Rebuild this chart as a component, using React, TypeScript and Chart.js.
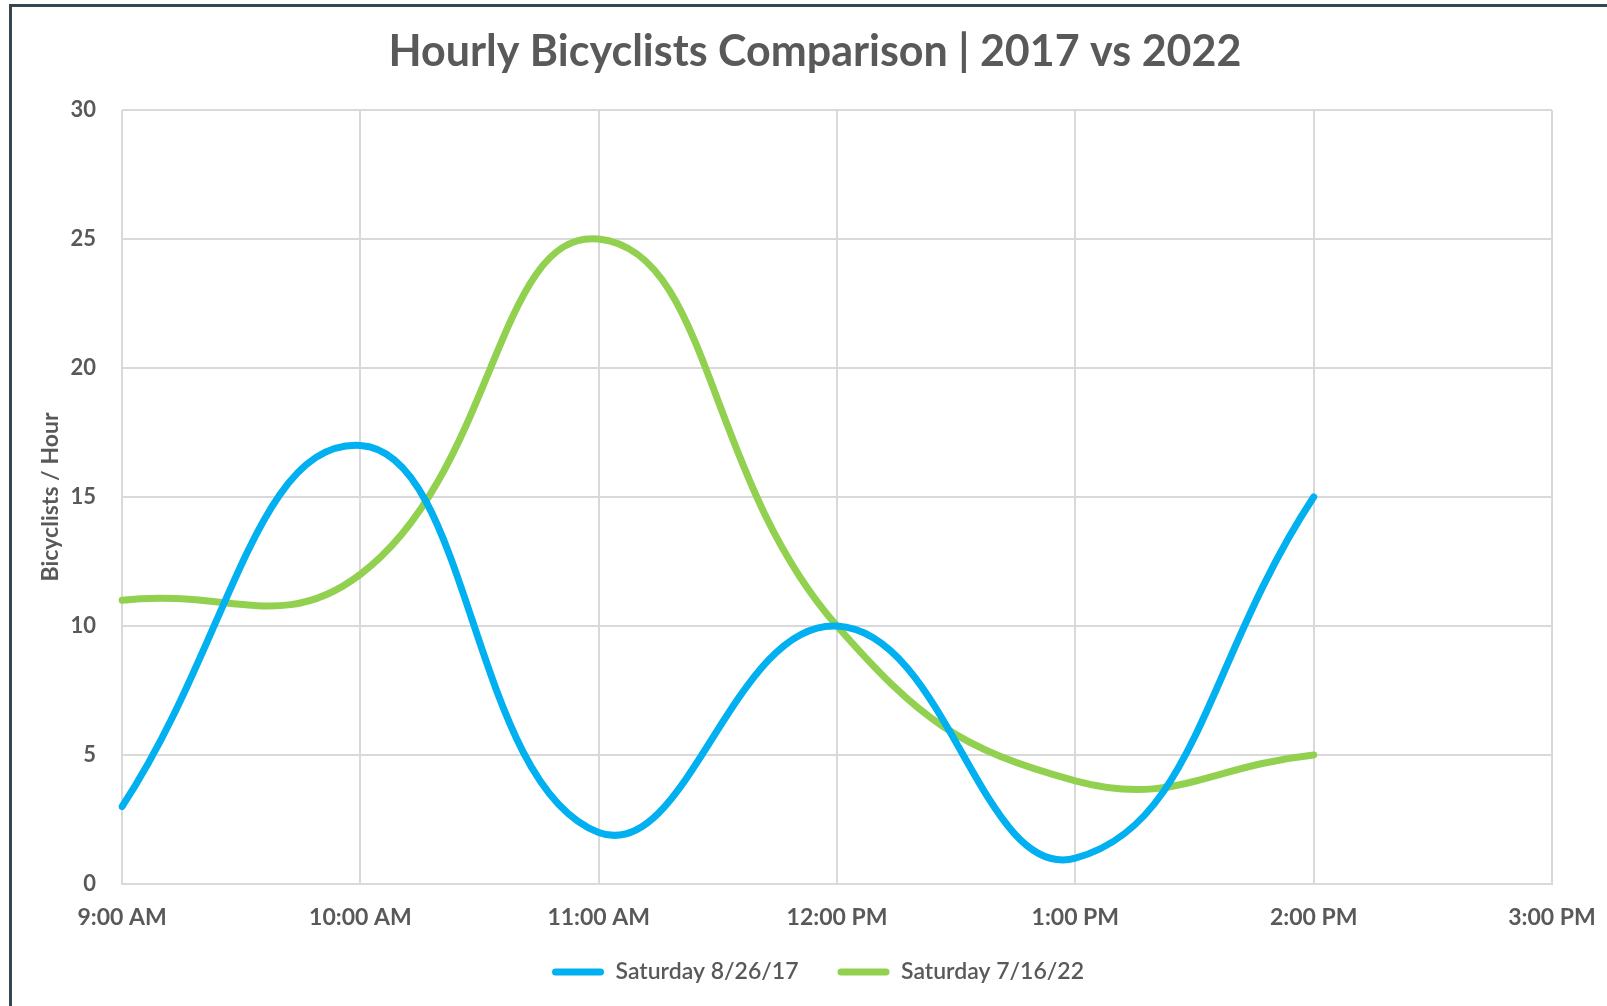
import React, { useEffect, useRef } from "react";
import { Chart, registerables } from "chart.js";

Chart.register(...registerables);

const hours = ["9:00 AM", "10:00 AM", "11:00 AM", "12:00 PM", "1:00 PM", "2:00 PM", "3:00 PM"];
const saturday2017 = [3, 17, 2, 10, 1, 15];
const saturday2022 = [11, 12, 25, 10, 4, 5];
const seriesNames = ["Saturday 8/26/17", "Saturday 7/16/22"];
const yMin = 0;
const yMax = 30;
const yStep = 5;

const TITLE_CX = 815;
const LEGEND_CX = 818;
const LEGEND_CY = 972;
const LEGEND_PAD = 39;
const LEGEND_FONT = 23;

const placeBoxes = {
  id: "placeBoxes",
  afterLayout(chart: any) {
    const t = chart.titleBlock;
    if (t) {
      const w = t.right - t.left;
      t.left = TITLE_CX - w / 2;
      t.right = TITLE_CX + w / 2;
    }
    const l = chart.legend;
    if (l) {
      const w = l.right - l.left;
      l.left = LEGEND_CX - w / 2;
      l.right = LEGEND_CX + w / 2;
      const h = l.bottom - l.top;
      l.top = LEGEND_CY - LEGEND_PAD - LEGEND_FONT / 2;
      l.bottom = l.top + h;
    }
  },
};

export default function App() {
  const ref = useRef<HTMLCanvasElement | null>(null);

  useEffect(() => {
    if (!ref.current) return;
    const gray = "#595959";
    const grid = "#d9d9d9";
    const chart = new Chart(ref.current, {
      type: "line",
      data: {
        labels: hours,
        datasets: [
          {
            label: seriesNames[0],
            data: saturday2017,
            borderColor: "#00B0F0",
            backgroundColor: "#00B0F0",
            borderWidth: 7,
            pointRadius: 0,
            tension: 0.45,
            borderCapStyle: "round",
            borderJoinStyle: "round",
            fill: false,
          },
          {
            label: seriesNames[1],
            data: saturday2022,
            borderColor: "#92D050",
            backgroundColor: "#92D050",
            borderWidth: 7,
            pointRadius: 0,
            tension: 0.45,
            borderCapStyle: "round",
            borderJoinStyle: "round",
            fill: false,
          },
        ],
      },
      options: {
        responsive: false,
        animation: false,
        layout: { padding: { left: 9, right: 55, top: 0, bottom: 0 } },
        plugins: {
          title: {
            display: true,
            text: "Hourly Bicyclists Comparison | 2017 vs 2022",
            color: gray,
            font: { family: "Lato", size: 43, weight: "bold", lineHeight: 1.2 },
            padding: { top: 26, bottom: 32.4 },
          },
          legend: {
            display: true,
            position: "bottom",
            labels: {
              color: gray,
              font: { family: "Lato", size: LEGEND_FONT, weight: "600" },
              boxWidth: 52,
              boxHeight: 7,
              padding: LEGEND_PAD,
              useBorderRadius: true,
              borderRadius: 3.5,
              generateLabels: (c: any) =>
                (Chart.defaults.plugins.legend.labels.generateLabels as any)(c).map((it: any) => ({
                  ...it,
                  lineWidth: 0,
                })),
            },
          },
          tooltip: { enabled: false },
        },
        scales: {
          x: {
            type: "category",
            offset: false,
            grid: { color: grid, lineWidth: 2, drawTicks: false },
            border: { color: grid, width: 2 },
            ticks: {
              color: gray,
              font: { family: "Lato", size: 23, weight: "bold", lineHeight: 1.2 },
              padding: 20,
              autoSkip: false,
              maxRotation: 0,
            },
            afterFit: (s: any) => {
              s.height = 50;
              s.paddingLeft = 0;
              s.paddingRight = 0;
            },
          },
          y: {
            min: yMin,
            max: yMax,
            grid: { color: grid, lineWidth: 2, drawTicks: false },
            border: { display: false },
            ticks: {
              stepSize: yStep,
              color: gray,
              font: { family: "Lato", size: 22, weight: "bold" },
              padding: 26,
            },
            title: {
              display: true,
              text: "Bicyclists / Hour",
              color: gray,
              font: { family: "Lato", size: 23, weight: "bold", lineHeight: 1.2 },
              padding: { top: 28, bottom: 0 },
            },
            afterFit: (s: any) => {
              s.width = 113;
            },
          },
        },
      },
      plugins: [placeBoxes],
    } as any);
    return () => chart.destroy();
  }, []);

  return (
    <div style={{ position: "fixed", left: 0, top: 0, width: 1607, height: 1006, background: "#ffffff", overflow: "hidden" }}>
      <div
        style={{
          position: "absolute",
          left: 9,
          top: 4,
          width: 2000,
          height: 2000,
          borderLeft: "3px solid #37474f",
          borderTop: "3px solid #37474f",
        }}
      />
      <canvas ref={ref} width={1607} height={1006} style={{ position: "absolute", left: 0, top: 0, width: 1607, height: 1006 }} />
    </div>
  );
}
